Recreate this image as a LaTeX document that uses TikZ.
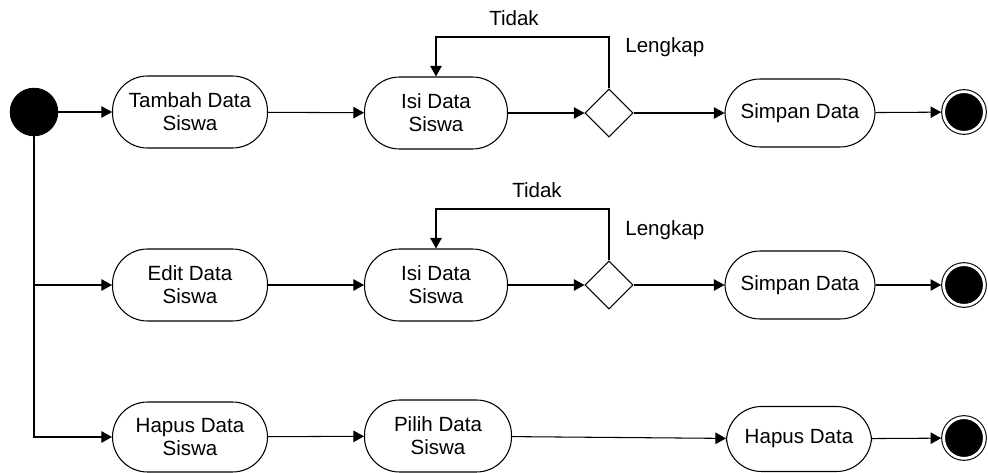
\documentclass[tikz,border=0pt]{standalone}
\usepackage{fontspec}
\setmainfont{Liberation Sans}
\usetikzlibrary{shapes.geometric,arrows.meta}

\tikzset{
  aktivitas/.style={draw, rectangle, rounded corners=0.7cm, align=center,
    minimum width=3.0cm, minimum height=1.44cm, inner sep=2pt, line width=0.6pt,
    font=\fontsize{11.7}{13.2}\selectfont},
  keputusan/.style={draw, diamond, aspect=1, minimum width=0.96cm, minimum height=0.96cm,
    inner sep=0pt, line width=0.6pt},
  mulai/.style={circle, draw, fill=black, minimum size=27pt, inner sep=0pt, line width=0.6pt},
  akhir/.style={circle, draw, fill=black, minimum size=23.2pt, inner sep=0pt,
    line width=0.6pt, double=white, double distance=1.6pt, outer sep=1.4pt},
  teks/.style={font=\fontsize{11.7}{13.2}\selectfont, inner sep=0pt},
  panah/.style={line width=0.6pt, -{Triangle[length=6pt,width=6.5pt]}},
}

\begin{document}
\begin{tikzpicture}[x=0.02cm,y=-0.02cm]
\useasboundingbox (0,0) rectangle (988,473);

% awal
\node[mulai] (mulai) at (34,112) {};

% baris tambah
\node[aktivitas, minimum width=3.1cm] (tambah) at (190,112) {Tambah Data\\Siswa};
\node[aktivitas, minimum width=2.86cm] (isiA) at (436,113) {Isi Data\\Siswa};
\node[keputusan] (kA) at (609,113) {};
\node[aktivitas, minimum height=1.36cm] (simpanA) at (800,113) {Simpan Data};
\node[akhir] (akhirA) at (964,112) {};
\coordinate (atasA) at (436,37);
\node[teks] (tidakA) at (514,18) {Tidak};
\node[teks, anchor=west] (lengkapA) at (625,47) {Lengkap};

\draw[panah] (mulai) -- (tambah);
\draw[panah] (tambah) -- (isiA);
\draw[panah] (isiA) -- (kA);
\draw[panah] (kA.north) |- (atasA) -- (isiA.north);
\draw[panah] (kA) -- (simpanA);
\draw[panah] (simpanA) -- (akhirA);

% baris edit
\node[aktivitas, minimum width=3.1cm] (edit) at (190,285) {Edit Data\\Siswa};
\node[aktivitas, minimum width=2.86cm] (isiB) at (436,285) {Isi Data\\Siswa};
\node[keputusan] (kB) at (609,285) {};
\node[aktivitas, minimum height=1.36cm] (simpanB) at (800,285) {Simpan Data};
\node[akhir] (akhirB) at (964,285) {};
\coordinate (atasB) at (436,209);
\node[teks] (tidakB) at (537,190) {Tidak};
\node[teks, anchor=west] (lengkapB) at (625,230) {Lengkap};

\draw[panah] (mulai.south) |- (edit.west);
\draw[panah] (edit) -- (isiB);
\draw[panah] (isiB) -- (kB);
\draw[panah] (kB.north) |- (atasB) -- (isiB.north);
\draw[panah] (kB) -- (simpanB);
\draw[panah] (simpanB) -- (akhirB);

% baris hapus
\node[aktivitas, minimum width=3.1cm, minimum height=1.4cm] (hapusS) at (190,437) {Hapus Data\\Siswa};
\node[aktivitas, minimum width=2.94cm] (pilih) at (438,436) {Pilih Data\\Siswa};
\node[aktivitas, minimum width=2.9cm, minimum height=1.3cm] (hapusD) at (799,439) {Hapus Data};
\node[akhir] (akhirC) at (964,438) {};

\draw[panah] (mulai.south) |- (hapusS.west);
\draw[panah] (hapusS) -- (pilih);
\draw[panah] (pilih) -- (hapusD);
\draw[panah] (hapusD) -- (akhirC);

\end{tikzpicture}
\end{document}
